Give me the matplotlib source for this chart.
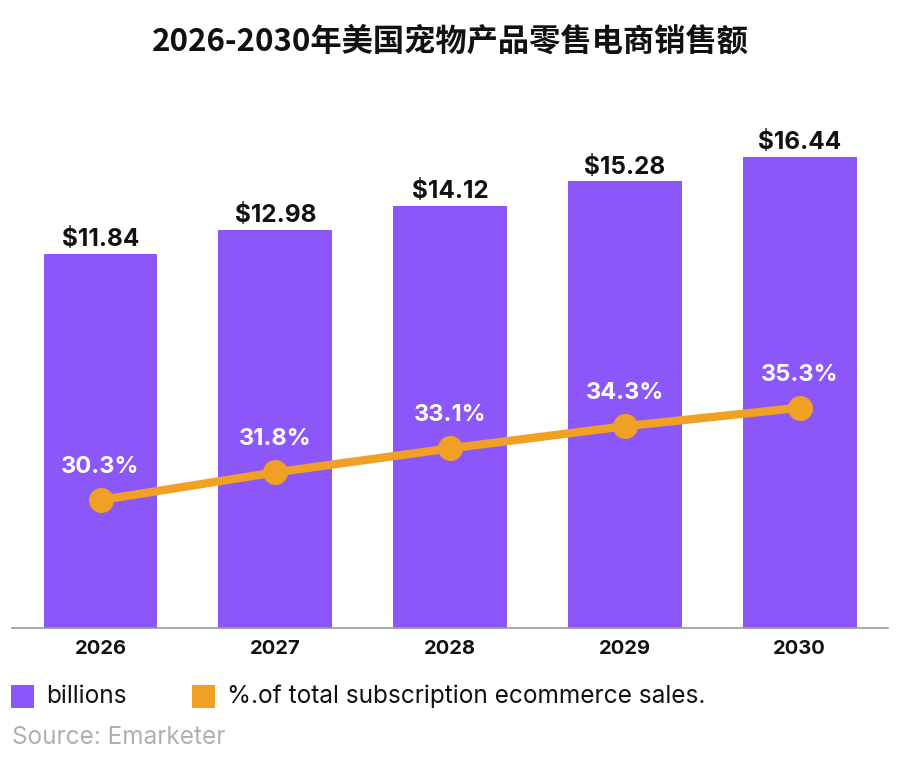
import matplotlib
matplotlib.use("Agg")
import matplotlib.pyplot as plt
from matplotlib.patches import Rectangle
import numpy as np

plt.rcParams['font.family'] = ['Inter', 'Noto Sans CJK SC', 'DejaVu Sans']

title = "2026-2030年美国宠物产品零售电商销售额"
years = ["2026", "2027", "2028", "2029", "2030"]
sales = [11.84, 12.98, 14.12, 15.28, 16.44]
share = [30.3, 31.8, 33.1, 34.3, 35.3]
legend_labels = ["billions", "%.of total subscription ecommerce sales."]
source = "Source: Emarketer"

PURPLE = "#8B57F8"
ORANGE = "#F0A024"

W, H = 900, 780
fig = plt.figure(figsize=(W / 100, H / 100), dpi=100)

# axes in pixel coords
left, right, bottom, top = 11.7, 888, 628, 100
ax = fig.add_axes([left / W, 1 - bottom / H, (right - left) / W, (bottom - top) / H])
ax2 = ax.twinx()

x = np.arange(len(years))
ymin, ymax = -5.93, 19.15
ax.set_ylim(ymin, ymax)
ax.set_xlim(-0.508, 4.505)
vals = np.array(sales)
ax.bar(x, vals - ymin, bottom=ymin, width=0.652, color=PURPLE, zorder=2)
for xi, v in zip(x, sales):
    ax.annotate(f"${v:.2f}", (xi, v), xytext=(0, 5.5), textcoords="offset points",
                ha="center", va="baseline", fontsize=17.5, fontweight="bold",
                color="#111111", zorder=5)

ax2.set_ylim(23.37, 51.97)
ax2.plot(x, share, color=ORANGE, lw=6, marker="o", markersize=17,
         solid_capstyle="round", zorder=4)
for xi, p in zip(x, share):
    ax2.annotate(f"{p:.1f}%", (xi, p), xytext=(0, 19.5), textcoords="offset points",
                 ha="center", va="baseline", fontsize=17, fontweight="bold",
                 color="white", zorder=6)

for a in (ax, ax2):
    for s in ("top", "right", "left"):
        a.spines[s].set_visible(False)
    a.set_yticks([])
ax.spines["bottom"].set_color("#9a9a9a")
ax.spines["bottom"].set_linewidth(1.2)
ax2.spines["bottom"].set_visible(False)
ax.set_xticks(x)
ax.set_xticklabels(years, fontsize=14.5, fontweight="bold", color="#111111")
ax.tick_params(axis="x", length=0, pad=9)

fig.text(0.5, 1 - 42 / H, title, ha="center", va="center", fontsize=22.5,
         fontweight="bold", color="#111111",
         family=['Noto Sans CJK SC', 'DejaVu Sans'])

# legend
sq = 22.7
for (x0, lbl, col) in [(11, legend_labels[0], PURPLE), (192.3, legend_labels[1], ORANGE)]:
    fig.patches.append(Rectangle((x0 / W, 1 - (685 + sq) / H), sq / W, sq / H,
                                 transform=fig.transFigure, facecolor=col,
                                 edgecolor="none"))
    fig.text((x0 + 35) / W, 1 - 696.5 / H, lbl, ha="left", va="center",
             fontsize=17.6, color="#111111")

fig.text(12 / W, 1 - 737 / H, source, ha="left", va="center", fontsize=17.5,
         color="#b0b0b0")

fig.savefig("out.png", dpi=100)
